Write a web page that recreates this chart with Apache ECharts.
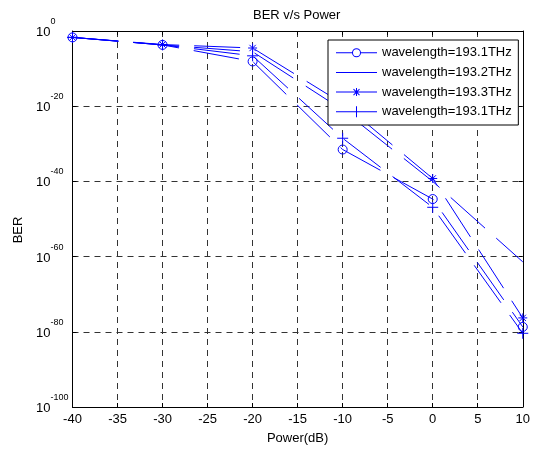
<!DOCTYPE html>
<html><head><meta charset="utf-8">
<script src="https://cdn.jsdelivr.net/npm/echarts@6/dist/echarts.min.js"></script>
<style>html,body{margin:0;padding:0;background:#fff}#c{width:533px;height:450px}</style>
</head><body><div id="c"></div>
<script>
// ---- data ----
const power = [-40, -30, -20, -10, 0, 10];               // x values (dB)
const seriesNames = ['wavelength=193.1THz', 'wavelength=193.2THz', 'wavelength=193.3THz', 'wavelength=193.1THz '];
const berCircle = [2e-2, 2e-4, 8e-9, 3e-32, 2e-45, 2e-79];   // 193.1THz (o)
const berLine   = [2e-2, 2e-4, 3e-6, 1e-21, 1e-40, 4e-62];   // 193.2THz (no marker)
const berStar   = [2e-2, 2.5e-4, 3e-5, 5e-20, 6e-40, 5e-77]; // 193.3THz (*)
const berPlus   = [2e-2, 2e-4, 2.5e-7, 3e-29, 1.3e-47, 4e-81]; // 193.1THz (+)
const xTickLabels = [-40, -35, -30, -25, -20, -15, -10, -5, 0, 5, 10];
const yTickExponents = [0, -20, -40, -60, -80, -100];

const BLUE = '#0000ff';
const FONT = 'Arial, "Liberation Sans", sans-serif';
const PLUS = 'path://M5 0L5 10M0 5L10 5';
const STAR = 'path://M5 0L5 10M0 5L10 5M1.5 1.5L8.5 8.5M8.5 1.5L1.5 8.5';

// legend icons (line + marker) as filled shapes in a 41 x 11 box
const ICON_CIRCLE = 'path://M0 5H16.5V6H0Z M24.5 5H41V6H24.5Z M16 5.5A4.5 4.5 0 1 1 25 5.5A4.5 4.5 0 1 1 16 5.5Z M17 5.5A3.5 3.5 0 1 0 24 5.5A3.5 3.5 0 1 0 17 5.5Z';
const ICON_LINE = 'path://M0 5H41V6H0Z';
const ICON_STAR = 'path://M0 5H41V6H0Z M20 1.5H21V9.5H20Z M17.15 2.85L17.85 2.15L23.85 8.15L23.15 8.85Z M23.15 2.15L23.85 2.85L17.85 8.85L17.15 8.15Z';
const ICON_PLUS = 'path://M0 5H41V6H0Z M20 0H21V11H20Z';

// y axis is log10(BER): decades on a linear axis
function mk(name, vals, symbol, size) {
  return {
    name: name, type: 'line', color: BLUE,
    data: power.map((p, i) => [p, Math.log10(vals[i])]),
    symbol: symbol, symbolSize: size, showAllSymbol: true,
    lineStyle: { color: BLUE, width: 1, type: [46, 15] },
    itemStyle: { color: 'rgba(0,0,0,0)', borderColor: BLUE, borderWidth: 1 },
    emphasis: { disabled: true },
    animation: false
  };
}
function legendItem(name, icon) {
  return { name: name, icon: icon, itemStyle: { color: BLUE, borderWidth: 0, opacity: 1 } };
}

const chart = echarts.init(document.getElementById('c'), null, { renderer: 'canvas' });
const gridStyle = { color: '#333', width: 1, type: [6, 5] };
const axisLineStyle = { show: true, onZero: false, lineStyle: { color: '#000', width: 1 } };
const tickStyle = { show: true, inside: true, length: 4, lineStyle: { color: '#000' } };
chart.setOption({
  animation: false,
  backgroundColor: '#fff',
  textStyle: { fontFamily: FONT },
  title: {
    text: 'BER v/s Power', left: 248, top: 4,
    textStyle: { fontFamily: FONT, fontSize: 13, fontWeight: 'normal', color: '#000' }
  },
  grid: { left: 72.5, right: 8, top: 31, bottom: 39.5, containLabel: false },
  legend: {
    orient: 'vertical', left: 328, top: 40,
    padding: [6.2, 3, 6.7, 8], itemWidth: 41, itemHeight: 11, itemGap: 6.7,
    backgroundColor: '#fff', borderColor: '#000', borderWidth: 1,
    textStyle: { fontFamily: FONT, fontSize: 13, color: '#000' },
    data: [
      legendItem(seriesNames[0], ICON_CIRCLE),
      legendItem(seriesNames[1], ICON_LINE),
      legendItem(seriesNames[2], ICON_STAR),
      legendItem(seriesNames[3], ICON_PLUS)
    ]
  },
  xAxis: [{
    type: 'value', min: -40, max: 10, interval: 5, position: 'bottom',
    name: 'Power(dB)', nameLocation: 'middle', nameGap: 25,
    nameTextStyle: { fontFamily: FONT, fontSize: 13, color: '#000' },
    axisLine: axisLineStyle, axisTick: tickStyle,
    axisLabel: { fontFamily: FONT, fontSize: 13, color: '#000', margin: 6 },
    splitLine: { show: true, lineStyle: gridStyle }
  }, {
    type: 'value', min: -40, max: 10, interval: 5, position: 'top',
    axisLine: axisLineStyle, axisTick: tickStyle,
    axisLabel: { show: false }, splitLine: { show: false }
  }],
  yAxis: [{
    type: 'value', min: -100, max: 0, interval: 20, position: 'left',
    name: 'BER', nameLocation: 'middle', nameGap: 36,
    nameTextStyle: { fontFamily: FONT, fontSize: 13, color: '#000', padding: [0, 22, 0, 0] },
    axisLine: axisLineStyle, axisTick: tickStyle,
    axisLabel: {
      margin: 36.5, align: 'left', color: '#000',
      formatter: function (v) { return '{b|10}{s|' + v + '}'; },
      rich: {
        b: { fontFamily: FONT, fontSize: 13, color: '#000', verticalAlign: 'middle', padding: [3, 0, 0, 0] },
        s: { fontFamily: FONT, fontSize: 9, color: '#000', verticalAlign: 'middle', padding: [0, 0, 19, 0] }
      }
    },
    splitLine: { show: true, lineStyle: gridStyle }
  }, {
    type: 'value', min: -100, max: 0, interval: 20, position: 'right',
    axisLine: axisLineStyle, axisTick: tickStyle,
    axisLabel: { show: false }, splitLine: { show: false }
  }],
  series: [
    mk(seriesNames[0], berCircle, 'circle', 9),
    mk(seriesNames[1], berLine, 'none', 0),
    mk(seriesNames[2], berStar, STAR, 9),
    mk(seriesNames[3], berPlus, PLUS, 11)
  ]
});
</script></body></html>
